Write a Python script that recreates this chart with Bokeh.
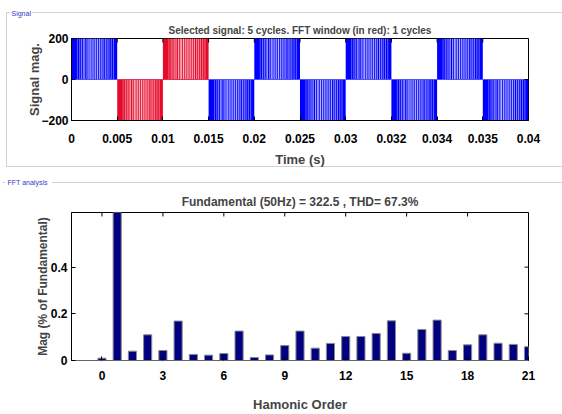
import numpy as np
from bokeh.plotting import figure
from bokeh.layouts import column
from bokeh.models import FixedTicker, Range1d, Label, Title
from bokeh.embed import file_html
from bokeh.resources import INLINE

# ---------------- data: signal panel ----------------
signal_title = "Selected signal: 5 cycles. FFT window (in red): 1 cycles"
half_cycle_start = [0.000, 0.004, 0.008, 0.012, 0.016, 0.020, 0.024, 0.028, 0.032, 0.036]
half_cycle_end = [0.004, 0.008, 0.012, 0.016, 0.020, 0.024, 0.028, 0.032, 0.036, 0.040]
half_cycle_peak = [200, -200, 200, -200, 200, -200, 200, -200, 200, -200]
half_cycle_in_fft_window = [False, True, True, False, False, False, False, False, False, False]
# positions (fraction of a half cycle) of the PWM off-pulses and how visible they are
pwm_gap_fraction = [0.13, 0.18, 0.22, 0.26, 0.29, 0.34, 0.38, 0.41, 0.45, 0.49,
                    0.53, 0.57, 0.61, 0.65, 0.69, 0.74, 0.78, 0.82, 0.87, 0.92]
pwm_gap_depth = [0.35, 0.45, 0.5, 0.55, 0.6, 0.65, 0.7, 0.7, 0.75, 0.7,
                 0.75, 0.7, 0.7, 0.65, 0.65, 0.6, 0.55, 0.5, 0.45, 0.4]
time_ticks = [0.000, 0.004, 0.008, 0.012, 0.016, 0.020, 0.024, 0.028, 0.032, 0.036, 0.040]
time_tick_labels = ["0", "0.005", "0.01", "0.015", "0.02", "0.025", "0.03", "0.032", "0.034", "0.035", "0.04"]
signal_ticks = [-200, 0, 200]

# ---------------- data: FFT panel ----------------
fft_title = "Fundamental (50Hz) = 322.5 , THD= 67.3%"
harmonic_x = [0, 0.75, 1.5, 2.25, 3, 3.75, 4.5, 5.25, 6, 6.75, 7.5, 8.25, 9, 9.75, 10.5,
              11.25, 12, 12.75, 13.5, 14.25, 15, 15.75, 16.5, 17.25, 18, 18.75, 19.5, 20.25, 21]
harmonic_mag = [0.01, 1.0, 0.04, 0.11, 0.043, 0.169, 0.026, 0.023, 0.03, 0.126, 0.013, 0.024,
                0.064, 0.126, 0.053, 0.073, 0.103, 0.103, 0.116, 0.17, 0.031, 0.133, 0.173,
                0.043, 0.067, 0.11, 0.074, 0.069, 0.059]
harmonic_ticks = [0, 3, 6, 9, 12, 15, 18, 21]
mag_ticks = [0, 0.2, 0.4]

FONT = "Liberation Sans"
BOX = "#d2d2d2"
TICK = 4  # inward tick length, px


def style_axis(ax, standoff):
    ax.major_tick_in = TICK
    ax.major_tick_out = 0
    ax.minor_tick_in = 0
    ax.minor_tick_out = 0
    ax.axis_line_color = "black"
    ax.major_tick_line_color = "black"
    ax.major_label_text_font = FONT
    ax.major_label_text_font_style = "bold"
    ax.major_label_text_font_size = "12px"
    ax.major_label_text_color = "black"
    ax.major_label_standoff = standoff


def style_label(ax, size, standoff):
    ax.axis_label_text_font = FONT
    ax.axis_label_text_font_size = size
    ax.axis_label_text_font_style = "bold"
    ax.axis_label_standoff = standoff


def mirror_ticks(p, xr, yr, xticks, yticks, frame_w, frame_h):
    """inward tick marks on the top and right edges of the frame"""
    dy = TICK * (yr.end - yr.start) / frame_h
    dx = TICK * (xr.end - xr.start) / frame_w
    xt = np.array(xticks, dtype=float)
    yt = np.array(yticks, dtype=float)
    p.segment(x0=xt, x1=xt, y0=np.full_like(xt, yr.end), y1=np.full_like(xt, yr.end - dy),
              line_color="black", line_width=1)
    p.segment(x0=np.full_like(yt, xr.end), x1=np.full_like(yt, xr.end - dx), y0=yt, y1=yt,
              line_color="black", line_width=1)


def line_css(segments):
    parts = [f"linear-gradient({BOX}, {BOX}) {x}px {y}px / {w}px {h}px no-repeat"
             for x, y, w, h in segments]
    return ", ".join(parts)


# ================= signal figure =================
xr1 = Range1d(0, 0.04)
yr1 = Range1d(-200, 200)
p1 = figure(width=562, height=178, x_range=xr1, y_range=yr1,
            output_backend="svg", toolbar_location=None, title_location=None,
            min_border_left=71, min_border_right=31, min_border_top=38, min_border_bottom=58)
p1.xgrid.visible = False
p1.ygrid.visible = False
p1.outline_line_color = "black"
p1.background_fill_color = "white"
p1.border_fill_color = None
# group box "Signal" drawn behind the canvas (gap left for its caption)
p1.styles = {"background": line_css([(6, 12, 4, 1), (32, 12, 530, 1),
                                      (6, 166, 556, 1), (6, 12, 1, 155)])}

start = np.array(half_cycle_start)
end = np.array(half_cycle_end)
peak = np.array(half_cycle_peak, dtype=float)
inwin = np.array(half_cycle_in_fft_window)
fill = np.where(inwin, "#e60a2a", "#0000ff")
p1.quad(left=start, right=end, bottom=0, top=peak, fill_color=list(fill), line_color=None)

frac = np.array(pwm_gap_fraction)
depth = np.array(pwm_gap_depth)
gx = (start[:, None] + frac[None, :] * (end - start)[:, None]).ravel()
gy = np.repeat(peak, len(frac))
ga = np.tile(depth, len(start))
p1.segment(x0=gx, y0=np.zeros_like(gx), x1=gx, y1=gy, line_color="white",
           line_alpha=list(ga), line_width=1)
p1.segment(x0=start, y0=np.zeros_like(start), x1=end, y1=np.zeros_like(start),
           line_color=list(np.where(inwin, "#e03060", "#5050ff")), line_width=1)

p1.xaxis.ticker = FixedTicker(ticks=time_ticks)
p1.xaxis.major_label_overrides = {t: l for t, l in zip(time_ticks, time_tick_labels)}
p1.yaxis.ticker = FixedTicker(ticks=signal_ticks)
style_axis(p1.xaxis[0], 13)
style_axis(p1.yaxis[0], 3)
p1.xaxis.axis_label = "Time (s)"
style_label(p1.xaxis[0], "13px", 6)
p1.yaxis.axis_label = "Signal mag."
style_label(p1.yaxis[0], "13px", -4)
mirror_ticks(p1, xr1, yr1, time_ticks, signal_ticks, 460, 82)

# chart title (inner slot), then group-box caption (outer slot)
p1.add_layout(Title(text=signal_title, align="center", text_font=FONT, text_font_size="10px",
                    text_font_style="bold", standoff=6), "above")
p1.add_layout(Label(x=11, y=13, x_units="canvas", y_units="canvas", text="Signal",
                    text_font=FONT, text_font_size="7px", text_color="#3838c8",
                    text_baseline="middle"), "above")

# ================= FFT figure =================
xr2 = Range1d(-1.5, 21)
yr2 = Range1d(0, 0.634)
p2 = figure(width=562, height=236, x_range=xr2, y_range=yr2,
            output_backend="svg", toolbar_location=None, title_location=None,
            min_border_left=70, min_border_right=34, min_border_top=34, min_border_bottom=53)
p2.xgrid.visible = False
p2.ygrid.visible = False
p2.outline_line_color = "black"
p2.background_fill_color = "white"
p2.border_fill_color = None
p2.styles = {"background": line_css([(2, 4, 3, 1), (52, 4, 510, 1)])}

p2.vbar(x=harmonic_x, top=harmonic_mag, bottom=0, width=0.4,
        fill_color="#000080", line_color="#8a8a8a", line_width=1)

p2.xaxis.ticker = FixedTicker(ticks=harmonic_ticks)
p2.yaxis.ticker = FixedTicker(ticks=mag_ticks)
style_axis(p2.xaxis[0], 10)
style_axis(p2.yaxis[0], 4)
p2.xaxis.axis_line_color = "#666666"
p2.xaxis.axis_label = "Hamonic Order"
style_label(p2.xaxis[0], "13px", 14)
p2.yaxis.axis_label = "Mag (% of Fundamental)"
style_label(p2.yaxis[0], "12px", -2)
mirror_ticks(p2, xr2, yr2, harmonic_ticks, mag_ticks, 458, 149)

p2.add_layout(Title(text=fft_title, align="center", text_font=FONT, text_font_size="12px",
                    text_font_style="bold", standoff=7), "above")
p2.add_layout(Label(x=7, y=4, x_units="canvas", y_units="canvas", text="FFT analysis",
                    text_font=FONT, text_font_size="7px", text_color="#3838c8",
                    text_baseline="middle"), "above")

layout = column(p1, p2, spacing=0)
open("out.html", "w").write(file_html(layout, INLINE))
